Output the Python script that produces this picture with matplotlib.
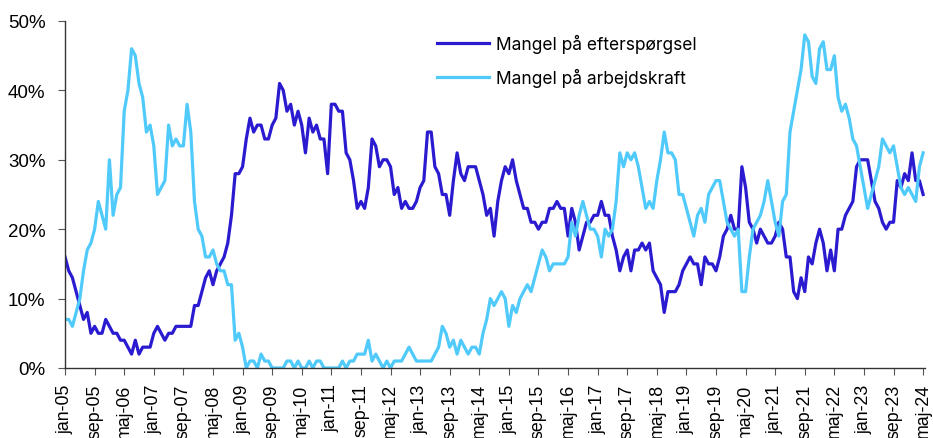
import matplotlib
matplotlib.use('Agg')
import matplotlib.pyplot as plt
import numpy as np

# monthly survey shares (%), jan-05 .. maj-24
efterspoergsel = [
    16, 14, 13, 11, 9, 7, 8, 5, 6, 5, 5, 7, 6, 5, 5, 4, 4, 3, 2, 4, 2, 3, 3, 3, 5, 6, 5, 4, 5,
    5, 6, 6, 6, 6, 6, 9, 9, 11, 13, 14, 12, 14, 15, 16, 18, 22, 28, 28, 29, 33, 36, 34, 35, 35, 33, 33, 35, 36, 41,
    40, 37, 38, 35, 37, 35, 31, 36, 34, 35, 33, 33, 28, 38, 38, 37, 37, 31, 30, 27, 23, 24, 23, 26, 33, 32, 29, 30, 30,
    29, 25, 26, 23, 24, 23, 23, 24, 26, 27, 34, 34, 29, 28, 25, 25, 22, 27, 31, 28, 27, 29, 29, 29, 27, 25, 22, 23, 19, 24,
    27, 29, 28, 30, 27, 25, 23, 23, 21, 21, 20, 21, 21, 23, 23, 24, 23, 23, 19, 23, 21, 17, 19, 21, 21, 22, 22, 24, 22, 22,
    19, 17, 14, 16, 17, 14, 17, 17, 18, 17, 18, 14, 13, 12, 8, 11, 11, 11, 12, 14, 15, 16, 15, 15, 12, 16, 15, 15, 14, 16,
    19, 20, 22, 20, 20, 29, 26, 21, 20, 18, 20, 19, 18, 18, 19, 21, 20, 16, 16, 11, 10, 13, 11, 16, 15, 18, 20, 18, 14, 17,
    14, 20, 20, 22, 23, 24, 29, 30, 30, 30, 27, 24, 23, 21, 20, 21, 21, 27, 26, 28, 27, 31, 27, 27, 25,
]
arbejdskraft = [
    7, 7, 6, 8, 10, 14, 17, 18, 20, 24, 22, 20, 30, 22, 25, 26, 37, 40, 46, 45, 41, 39, 34, 35, 32, 25, 26, 27, 35,
    32, 33, 32, 32, 38, 34, 24, 20, 19, 16, 16, 17, 15, 14, 14, 12, 12, 4, 5, 3, 0, 1, 1, 0, 2, 1, 1, 0, 0, 0,
    0, 1, 1, 0, 1, 0, 0, 1, 0, 1, 1, 0, 0, 0, 0, 0, 1, 0, 1, 1, 2, 2, 2, 4, 1, 2, 1, 0, 1,
    0, 1, 1, 1, 2, 3, 2, 1, 1, 1, 1, 1, 2, 3, 6, 5, 3, 4, 2, 4, 3, 2, 3, 3, 2, 5, 7, 10, 9, 10,
    11, 10, 6, 9, 8, 10, 11, 12, 11, 13, 15, 17, 16, 14, 15, 15, 15, 15, 16, 21, 19, 22, 24, 22, 20, 20, 19, 16, 20, 19,
    20, 24, 31, 29, 31, 30, 31, 29, 26, 23, 24, 23, 27, 30, 34, 31, 31, 30, 25, 25, 23, 21, 19, 22, 23, 21, 25, 26, 27, 27,
    24, 21, 20, 19, 20, 11, 11, 16, 20, 21, 22, 24, 27, 24, 21, 19, 24, 25, 34, 37, 40, 43, 48, 47, 42, 41, 46, 47, 43, 43,
    45, 39, 37, 38, 36, 33, 32, 29, 26, 23, 25, 27, 29, 33, 32, 31, 32, 29, 26, 25, 26, 25, 24, 29, 31,
]
tick_labels = ['jan-05', 'sep-05', 'maj-06', 'jan-07', 'sep-07', 'maj-08', 'jan-09',
               'sep-09', 'maj-10', 'jan-11', 'sep-11', 'maj-12', 'jan-13', 'sep-13',
               'maj-14', 'jan-15', 'sep-15', 'maj-16', 'jan-17', 'sep-17', 'maj-18',
               'jan-19', 'sep-19', 'maj-20', 'jan-21', 'sep-21', 'maj-22', 'jan-23',
               'sep-23', 'maj-24']
series_names = ['Mangel på efterspørgsel', 'Mangel på arbejdskraft']

months = np.arange(len(efterspoergsel))

plt.rcParams['font.family'] = ['Liberation Sans', 'DejaVu Sans']

fig = plt.figure(figsize=(9.33, 4.39), dpi=100, facecolor='w')
ax = fig.add_axes([0.0697, 0.1595, 0.9217, 0.7904])

l1, = ax.plot(months, np.array(efterspoergsel) / 100, color='#2B1BD0', lw=2.3,
              solid_joinstyle='round')
l2, = ax.plot(months, np.array(arbejdskraft) / 100, color='#4FCAFB', lw=2.3,
              solid_joinstyle='round')

ax.set_xlim(0, 232.5)
ax.set_ylim(0, 0.5)
ax.set_yticks(np.arange(0, 0.51, 0.1))
ax.set_yticklabels(['{:.0f}%'.format(v * 100) for v in np.arange(0, 0.51, 0.1)])
ax.set_xticks(np.arange(0, 8 * len(tick_labels), 8))
ax.set_xticklabels(tick_labels, rotation=90)

for side in ['top', 'right']:
    ax.spines[side].set_visible(False)
for side in ['left', 'bottom']:
    ax.spines[side].set_color('#333333')
    ax.spines[side].set_linewidth(1.0)

ax.tick_params(axis='y', labelsize=13.5, length=5, color='#555555', pad=9)
ax.tick_params(axis='x', labelsize=12.8, length=5, color='#555555', pad=6)

fig.legend([l1, l2], series_names, loc='upper left',
           bbox_to_anchor=(0.468, 0.921), frameon=False,
           prop={'family': 'Inter', 'size': 12.5},
           handlelength=3.0, handletextpad=0.4, labelspacing=0.85,
           borderpad=0, borderaxespad=0)

fig.savefig('out.png', dpi=100)
